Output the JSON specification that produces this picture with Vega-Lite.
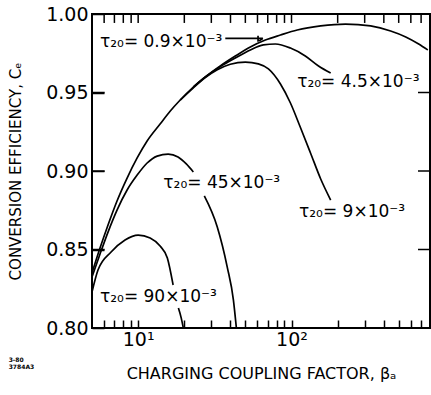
{
  "$schema": "https://vega.github.io/schema/vega-lite/v6.json",
  "width": 338,
  "height": 314,
  "autosize": {"type": "none"},
  "padding": {"left": 92, "top": 14, "right": 1, "bottom": 67},
  "background": "white",
  "config": {
    "view": {"stroke": "black", "strokeWidth": 2},
    "font": "DejaVu Sans",
    "axis": {"grid": false, "domain": false, "labelColor": "black", "titleColor": "black", "titleFontWeight": "normal"}
  },
  "title": {"text": ["3-80", "3784A3"], "orient": "bottom", "anchor": "start", "frame": "bounds", "fontSize": 6, "fontWeight": "bold", "offset": -24, "color": "black", "lineHeight": 7},
  "datasets": {
    "curves": [
      {"s": "0.9", "seg": "0.9a", "x": 5.0, "y": 0.835},
      {"s": "0.9", "seg": "0.9a", "x": 5.64, "y": 0.8509},
      {"s": "0.9", "seg": "0.9a", "x": 6.36, "y": 0.8656},
      {"s": "0.9", "seg": "0.9a", "x": 7.28, "y": 0.8809},
      {"s": "0.9", "seg": "0.9a", "x": 8.47, "y": 0.8955},
      {"s": "0.9", "seg": "0.9a", "x": 9.85, "y": 0.9083},
      {"s": "0.9", "seg": "0.9a", "x": 11.44, "y": 0.9191},
      {"s": "0.9", "seg": "0.9a", "x": 13.9, "y": 0.9299},
      {"s": "0.9", "seg": "0.9a", "x": 16.2, "y": 0.9382},
      {"s": "0.9", "seg": "0.9a", "x": 18.8, "y": 0.9452},
      {"s": "0.9", "seg": "0.9a", "x": 22.9, "y": 0.9535},
      {"s": "0.9", "seg": "0.9a", "x": 27.4, "y": 0.9599},
      {"s": "0.9", "seg": "0.9a", "x": 34.3, "y": 0.9669},
      {"s": "0.9", "seg": "0.9a", "x": 43.0, "y": 0.9732},
      {"s": "0.9", "seg": "0.9a", "x": 53.9, "y": 0.979},
      {"s": "0.9", "seg": "0.9a", "x": 67.5, "y": 0.9834},
      {"s": "0.9", "seg": "0.9a", "x": 84.7, "y": 0.9866},
      {"s": "0.9", "seg": "0.9a", "x": 109, "y": 0.9898},
      {"s": "0.9", "seg": "0.9a", "x": 155, "y": 0.9924},
      {"s": "0.9", "seg": "0.9a", "x": 225, "y": 0.9936},
      {"s": "0.9", "seg": "0.9a", "x": 328, "y": 0.9924},
      {"s": "0.9", "seg": "0.9a", "x": 443, "y": 0.9892},
      {"s": "0.9", "seg": "0.9a", "x": 556, "y": 0.9854},
      {"s": "0.9", "seg": "0.9a", "x": 675, "y": 0.9809},
      {"s": "0.9", "seg": "0.9a", "x": 774, "y": 0.9771},
      {"s": "4.5", "seg": "4.5a", "x": 22.9, "y": 0.9535},
      {"s": "4.5", "seg": "4.5a", "x": 27.4, "y": 0.9599},
      {"s": "4.5", "seg": "4.5a", "x": 34.3, "y": 0.9665},
      {"s": "4.5", "seg": "4.5a", "x": 43.0, "y": 0.972},
      {"s": "4.5", "seg": "4.5a", "x": 53.9, "y": 0.9771},
      {"s": "4.5", "seg": "4.5a", "x": 65.5, "y": 0.9803},
      {"s": "4.5", "seg": "4.5a", "x": 78.5, "y": 0.9809},
      {"s": "4.5", "seg": "4.5a", "x": 98.4, "y": 0.9783},
      {"s": "4.5", "seg": "4.5a", "x": 123, "y": 0.9733},
      {"s": "4.5", "seg": "4.5a", "x": 150, "y": 0.9669},
      {"s": "4.5", "seg": "4.5a", "x": 180, "y": 0.9624},
      {"s": "9", "seg": "9a", "x": 18.8, "y": 0.9452},
      {"s": "9", "seg": "9a", "x": 22.9, "y": 0.9530},
      {"s": "9", "seg": "9a", "x": 27.4, "y": 0.9595},
      {"s": "9", "seg": "9a", "x": 32.8, "y": 0.9645},
      {"s": "9", "seg": "9a", "x": 39.9, "y": 0.9680},
      {"s": "9", "seg": "9a", "x": 50.0, "y": 0.9694},
      {"s": "9", "seg": "9a", "x": 60.8, "y": 0.9682},
      {"s": "9", "seg": "9a", "x": 70.7, "y": 0.965},
      {"s": "9", "seg": "9a", "x": 84.7, "y": 0.9554},
      {"s": "9", "seg": "9a", "x": 98.4, "y": 0.9433},
      {"s": "9", "seg": "9a", "x": 114, "y": 0.928},
      {"s": "9", "seg": "9a", "x": 133, "y": 0.9115},
      {"s": "9", "seg": "9a", "x": 155, "y": 0.8949},
      {"s": "9", "seg": "9a", "x": 180, "y": 0.8815},
      {"s": "45", "seg": "45a", "x": 5.0, "y": 0.8325},
      {"s": "45", "seg": "45a", "x": 5.64, "y": 0.8471},
      {"s": "45", "seg": "45a", "x": 6.36, "y": 0.8611},
      {"s": "45", "seg": "45a", "x": 7.28, "y": 0.8751},
      {"s": "45", "seg": "45a", "x": 8.47, "y": 0.8879},
      {"s": "45", "seg": "45a", "x": 9.85, "y": 0.8974},
      {"s": "45", "seg": "45a", "x": 11.44, "y": 0.9051},
      {"s": "45", "seg": "45a", "x": 13.3, "y": 0.9095},
      {"s": "45", "seg": "45a", "x": 15.7, "y": 0.9108},
      {"s": "45", "seg": "45a", "x": 18.2, "y": 0.9089},
      {"s": "45", "seg": "45a", "x": 20.6, "y": 0.9045},
      {"s": "45", "seg": "45a", "x": 22.9, "y": 0.8994},
      {"s": "45", "seg": "45b", "x": 27.0, "y": 0.8841},
      {"s": "45", "seg": "45b", "x": 32.8, "y": 0.8643},
      {"s": "45", "seg": "45b", "x": 38.1, "y": 0.8388},
      {"s": "45", "seg": "45b", "x": 41.8, "y": 0.8178},
      {"s": "45", "seg": "45b", "x": 43.7, "y": 0.8},
      {"s": "90", "seg": "90a", "x": 5.0, "y": 0.8229},
      {"s": "90", "seg": "90a", "x": 5.47, "y": 0.8369},
      {"s": "90", "seg": "90a", "x": 6.66, "y": 0.8484},
      {"s": "90", "seg": "90a", "x": 8.21, "y": 0.8561},
      {"s": "90", "seg": "90a", "x": 10.0, "y": 0.8592},
      {"s": "90", "seg": "90a", "x": 11.97, "y": 0.8573},
      {"s": "90", "seg": "90a", "x": 13.9, "y": 0.8522},
      {"s": "90", "seg": "90a", "x": 15.5, "y": 0.8446},
      {"s": "90", "seg": "90a", "x": 16.9, "y": 0.8274},
      {"s": "90", "seg": "90b", "x": 18.3, "y": 0.8127},
      {"s": "90", "seg": "90b", "x": 19.1, "y": 0.8063},
      {"s": "90", "seg": "90b", "x": 19.7, "y": 0.8},
      {"s": "arrow", "seg": "arrow", "x": 37, "y": 0.9845},
      {"s": "arrow", "seg": "arrow", "x": 65, "y": 0.9845},
      {"s": "arrow", "seg": "head", "x": 60.5, "y": 0.9862},
      {"s": "arrow", "seg": "head", "x": 65, "y": 0.9845},
      {"s": "arrow", "seg": "head", "x": 60.5, "y": 0.9828}
    ],
    "labels": [
      {"x": 5.64, "y": 0.9792, "t": "τ₂₀= 0.9×10⁻³"},
      {"x": 109, "y": 0.9535, "t": "τ₂₀= 4.5×10⁻³"},
      {"x": 112, "y": 0.8707, "t": "τ₂₀= 9×10⁻³"},
      {"x": 14.6, "y": 0.8892, "t": "τ₂₀= 45×10⁻³"},
      {"x": 5.64, "y": 0.8166, "t": "τ₂₀= 90×10⁻³"}
    ],
    "xticks": [
      {"x": 6}, {"x": 7}, {"x": 8}, {"x": 9}, {"x": 10}, {"x": 20}, {"x": 30}, {"x": 40}, {"x": 50},
      {"x": 60}, {"x": 70}, {"x": 80}, {"x": 90}, {"x": 100}, {"x": 200}, {"x": 300}, {"x": 400},
      {"x": 500}, {"x": 600}, {"x": 700}
    ],
    "yticks": [
      {"y": 0.85}, {"y": 0.9}, {"y": 0.95}
    ]
  },
  "layer": [
    {
      "data": {"name": "curves"},
      "mark": {"type": "line", "color": "black", "strokeWidth": 1.7, "interpolate": "monotone"},
      "encoding": {
        "x": {"field": "x", "type": "quantitative", "scale": {"type": "log", "domain": [5, 800], "nice": false},
          "axis": {"orient": "bottom", "offset": -8, "values": [6, 7, 8, 9, 10, 20, 30, 40, 50, 60, 70, 80, 90, 100, 200, 300, 400, 500, 600, 700],
            "labelExpr": "datum.value == 10 ? '10¹' : datum.value == 100 ? '10²' : ''",
            "tickSize": 8, "tickColor": "black", "tickWidth": 1.5, "labelPadding": 2, "labelFontSize": 19, "labelFlush": false, "labelOverlap": false,
            "title": "CHARGING COUPLING FACTOR, βₐ", "titleFontSize": 16, "titlePadding": 16}},
        "y": {"field": "y", "type": "quantitative", "scale": {"domain": [0.8, 1.0], "nice": false, "zero": false},
          "axis": {"orient": "left", "offset": -12, "values": [0.8, 0.85, 0.9, 0.95, 1.0], "format": ".2f",
            "tickSize": 12, "tickColor": "black", "tickWidth": 1.5, "labelPadding": 4, "labelFontSize": 19,
            "title": "CONVERSION EFFICIENCY, Cₑ", "titleFontSize": 15, "titlePadding": 22}},
        "detail": {"field": "seg"}
      }
    },
    {
      "data": {"name": "labels"},
      "mark": {"type": "text", "align": "left", "baseline": "alphabetic", "fontSize": 17, "color": "black"},
      "encoding": {
        "x": {"field": "x", "type": "quantitative", "axis": null},
        "y": {"field": "y", "type": "quantitative", "axis": null},
        "text": {"field": "t"}
      }
    },
    {
      "data": {"name": "xticks"},
      "mark": {"type": "rule", "color": "black", "strokeWidth": 1.5},
      "encoding": {
        "x": {"field": "x", "type": "quantitative", "axis": null},
        "y": {"datum": 1.0, "type": "quantitative", "axis": null},
        "y2": {"datum": 0.9943}
      }
    },
    {
      "data": {"name": "yticks"},
      "mark": {"type": "rule", "color": "black", "strokeWidth": 1.5},
      "encoding": {
        "y": {"field": "y", "type": "quantitative", "axis": null},
        "x": {"datum": 5, "type": "quantitative", "axis": null},
        "x2": {"datum": 6.05}
      }
    },
    {
      "data": {"name": "yticks"},
      "mark": {"type": "rule", "color": "black", "strokeWidth": 1.5},
      "encoding": {
        "y": {"field": "y", "type": "quantitative", "axis": null},
        "x": {"datum": 800, "type": "quantitative", "axis": null},
        "x2": {"datum": 668}
      }
    }
  ],
  "resolve": {"axis": {"x": "independent", "y": "independent"}}
}
